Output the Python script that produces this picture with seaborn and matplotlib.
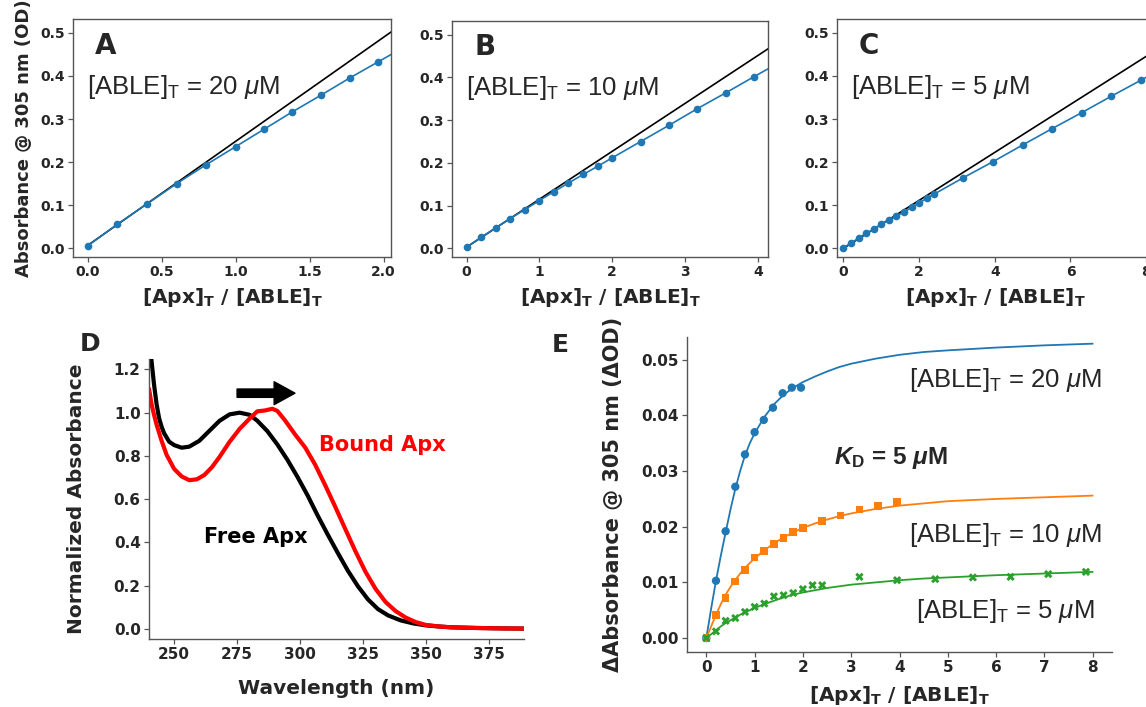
import numpy as np
import pandas as pd
import seaborn as sns
import matplotlib.pyplot as plt

# ---- dados ----
# Painel A: [ABLE]T = 20 uM
a_ratio = [0, 0.2, 0.4, 0.6, 0.8, 1.0, 1.19, 1.38, 1.58, 1.77, 1.96, 2.15]
a_abs = [0.006, 0.056, 0.103, 0.150, 0.194, 0.236, 0.276, 0.316, 0.356, 0.395, 0.432, 0.469]
a_ref_x = [0, 2.2]
a_ref_y = [0.007, 0.538]

# Painel B: [ABLE]T = 10 uM
b_ratio = [0, 0.2, 0.4, 0.6, 0.8, 1.0, 1.2, 1.4, 1.6, 1.8, 2.0, 2.39, 2.78, 3.17, 3.56, 3.95, 4.34]
b_abs = [0.003, 0.026, 0.048, 0.070, 0.091, 0.112, 0.133, 0.153, 0.173, 0.192, 0.212,
         0.250, 0.288, 0.327, 0.364, 0.402, 0.439]
b_ref_x = [0, 4.4]
b_ref_y = [0.003, 0.496]

# Painel C: [ABLE]T = 5 uM
c_ratio = [0, 0.2, 0.4, 0.6, 0.8, 1.0, 1.2, 1.4, 1.6, 1.8, 2.0, 2.2, 2.4,
           3.17, 3.95, 4.74, 5.52, 6.30, 7.08, 7.86, 8.64]
c_abs = [0.002, 0.012, 0.024, 0.035, 0.044, 0.056, 0.065, 0.075, 0.084, 0.095, 0.105, 0.116, 0.126,
         0.164, 0.201, 0.240, 0.278, 0.315, 0.353, 0.390, 0.427]
c_ref_x = [0, 9.0]
c_ref_y = [0.0, 0.501]

# Painel D: espectros normalizados
wl_free = [240, 241, 242, 243, 244, 245, 246, 248, 250, 253, 256, 260, 264, 268, 272, 276, 280,
           283, 287, 291, 295, 299, 303, 307, 311, 315, 319, 323, 327, 331, 335, 340, 345, 350,
           355, 360, 370, 380, 390]
abs_free = [1.38, 1.24, 1.13, 1.04, 0.975, 0.935, 0.905, 0.866, 0.850, 0.838, 0.843, 0.870, 0.916,
            0.962, 0.992, 1.000, 0.990, 0.963, 0.915, 0.853, 0.782, 0.703, 0.618, 0.525, 0.437,
            0.352, 0.270, 0.198, 0.137, 0.092, 0.063, 0.040, 0.026, 0.017, 0.012, 0.008, 0.005,
            0.003, 0.002]
wl_bound = [240, 241, 242, 243, 245, 247, 250, 253, 256, 259, 262, 265, 268, 272, 276, 280, 283,
            286, 289, 291, 294, 298, 302, 306, 310, 314, 318, 322, 326, 330, 334, 338, 342, 346,
            350, 355, 360, 370, 380, 390]
abs_bound = [1.11, 1.04, 0.99, 0.945, 0.87, 0.805, 0.74, 0.705, 0.688, 0.692, 0.712, 0.748, 0.795,
             0.865, 0.925, 0.973, 1.006, 1.010, 1.018, 1.008, 0.965, 0.900, 0.840, 0.760, 0.665,
             0.565, 0.462, 0.360, 0.265, 0.186, 0.125, 0.083, 0.053, 0.032, 0.019, 0.012, 0.008,
             0.005, 0.003, 0.002]

# Painel E: variação de absorbância + ajustes
e20_x = [0, 0.2, 0.4, 0.6, 0.8, 1.0, 1.19, 1.38, 1.58, 1.77, 1.96]
e20_y = [0, 0.0103, 0.0192, 0.0272, 0.0330, 0.0370, 0.0392, 0.0414, 0.0440, 0.0450, 0.0450]
e10_x = [0, 0.2, 0.4, 0.6, 0.8, 1.0, 1.2, 1.4, 1.6, 1.8, 2.0, 2.39, 2.78, 3.17, 3.56, 3.95]
e10_y = [0, 0.0041, 0.0072, 0.0102, 0.0122, 0.0145, 0.0157, 0.0169, 0.0180, 0.0191, 0.0198,
         0.0210, 0.0220, 0.0231, 0.0237, 0.0244]
e5_x = [0, 0.2, 0.4, 0.6, 0.8, 1.0, 1.2, 1.4, 1.6, 1.8, 2.0, 2.2, 2.4,
        3.17, 3.95, 4.74, 5.52, 6.30, 7.08, 7.86]
e5_y = [0, 0.0012, 0.0031, 0.0036, 0.0047, 0.0056, 0.0062, 0.0075, 0.0077, 0.0081, 0.0088,
        0.0095, 0.0095, 0.0110, 0.0104, 0.0106, 0.0109, 0.0110, 0.0115, 0.0119]

fit_x = [0, 0.1, 0.2, 0.3, 0.4, 0.5, 0.6, 0.7, 0.8, 0.9, 1.0, 1.2, 1.4, 1.6, 1.8, 2.0,
         2.25, 2.5, 2.75, 3.0, 3.5, 4.0, 4.5, 5.0, 6.0, 7.0, 8.0]
fit20 = [0, 0.0053, 0.0103, 0.0148, 0.0190, 0.0231, 0.0268, 0.0300, 0.0328, 0.0350, 0.0368,
         0.0397, 0.0420, 0.0437, 0.0450, 0.0460, 0.0470, 0.0479, 0.0487, 0.0493, 0.0502,
         0.0509, 0.0514, 0.0517, 0.0522, 0.0526, 0.0529]
fit10 = [0, 0.0021, 0.0042, 0.0061, 0.0078, 0.0092, 0.0104, 0.0116, 0.0126, 0.0135, 0.0143,
         0.0158, 0.0170, 0.0181, 0.0190, 0.0198, 0.0206, 0.0213, 0.0219, 0.0224, 0.0232,
         0.0238, 0.0242, 0.0246, 0.0250, 0.0253, 0.0256]
fit5 = [0, 0.0007, 0.0014, 0.0021, 0.0027, 0.0032, 0.0037, 0.0042, 0.0046, 0.0050, 0.0054,
        0.0061, 0.0067, 0.0073, 0.0078, 0.0082, 0.0086, 0.0090, 0.0093, 0.0096, 0.0100,
        0.0104, 0.0107, 0.0109, 0.0113, 0.0116, 0.0119]

conc_labels = ['20', '10', '5']
panel_letters = ['A', 'B', 'C', 'D', 'E']

BLUE, ORANGE, GREEN = '#1f77b4', '#ff7f0e', '#2ca02c'
SPINE = '#555555'
W, H = 1146, 707

# Configurações visuais
sns.set_style("ticks")
plt.rcParams.update({
    'font.family': ['DejaVu Sans'],
    'font.weight': 'bold',
    'mathtext.fontset': 'custom',
    'mathtext.rm': 'Liberation Sans:weight=normal',
    'mathtext.it': 'Liberation Sans:italic:weight=normal',
    'mathtext.bf': 'Liberation Sans:bold',
    'mathtext.bfit': 'Liberation Sans:italic:bold',
})


def box(left, top, right, bottom):
    # posição em pixels -> fração da figura
    return [left / W, 1 - bottom / H, (right - left) / W, (bottom - top) / H]


def style_axis(ax, size):
    for sp in ax.spines.values():
        sp.set_color(SPINE)
        sp.set_linewidth(1.0)
    ax.tick_params(labelsize=size, length=3.5, width=0.9, color=SPINE, pad=2.5)
    for lab in ax.get_xticklabels() + ax.get_yticklabels():
        lab.set_fontweight('bold')


def ratio_label(ax, size, pad=4):
    ax.set_xlabel('[Apx]$_\\mathbf{T}$ / [ABLE]$_\\mathbf{T}$', fontsize=size,
                  fontweight='bold', math_fontfamily='dejavusans', labelpad=pad)


def able_text(ax, x, y, conc, ha='left', transform=None, size=18.5):
    ax.text(x, y, '[ABLE]$_\\mathrm{T}$ = ' + conc + ' $\\mu$M', family='Liberation Sans',
            fontweight='normal', fontsize=size, ha=ha, va='center',
            transform=transform if transform is not None else ax.transData)


def build_figure():
    fig = plt.figure(figsize=(W / 100, H / 100), dpi=100)

    # ---- linha de cima: A, B, C ----
    top_panels = [
        (box(73, 19, 391, 257), a_ratio, a_abs, a_ref_x, a_ref_y, (-0.1, 2.05), np.arange(0, 2.01, 0.5)),
        (box(452, 21, 768, 257), b_ratio, b_abs, b_ref_x, b_ref_y, (-0.2, 4.14), np.arange(0, 4.1, 1)),
        (box(837, 19, 1153, 257), c_ratio, c_abs, c_ref_x, c_ref_y, (-0.17, 8.18), np.arange(0, 8.1, 2)),
    ]
    for i, (pos, rx, ry, refx, refy, xlim, xt) in enumerate(top_panels):
        ax = fig.add_axes(pos)
        sns.lineplot(x=refx, y=refy, color='black', linewidth=1.2, ax=ax)
        sns.lineplot(x=rx, y=ry, color=BLUE, linewidth=1.2, marker='o', markersize=5.5,
                     markeredgewidth=0, ax=ax)
        ax.set_xlim(*xlim)
        ax.set_ylim(-0.02, 0.532)
        ax.set_xticks(xt)
        ax.set_yticks(np.arange(0, 0.51, 0.1))
        style_axis(ax, 10)
        ratio_label(ax, 14.5, pad=5)
        if i == 0:
            ax.set_ylabel('Absorbance @ 305 nm (OD)', fontsize=13, fontweight='bold', labelpad=5)
        ax.text(0.07, 0.888, panel_letters[i], transform=ax.transAxes, fontsize=20,
                fontweight='bold', va='center', ha='left')
        able_text(ax, 0.045, 0.716, conc_labels[i], transform=ax.transAxes)

    # ---- D: espectros ----
    axd = fig.add_axes(box(149, 359, 524, 639))
    sns.lineplot(x=wl_free, y=abs_free, color='black', linewidth=3, ax=axd)
    sns.lineplot(x=wl_bound, y=abs_bound, color='#ff0000', linewidth=3, ax=axd)
    axd.set_xlim(240, 389)
    axd.set_ylim(-0.046, 1.248)
    axd.set_xticks([250, 275, 300, 325, 350, 375])
    axd.set_yticks(np.arange(0, 1.21, 0.2))
    sns.despine(ax=axd)
    style_axis(axd, 11)
    axd.set_xlabel('Wavelength (nm)', fontsize=14.5, fontweight='bold', labelpad=12)
    axd.set_ylabel('Normalized Absorbance', fontsize=14.5, fontweight='bold', labelpad=20)
    axd.text(307.5, 0.85, 'Bound Apx', color='#ff0000', fontsize=15, fontweight='bold',
             va='center', ha='left')
    axd.text(261.8, 0.426, 'Free Apx', color='black', fontsize=15, fontweight='bold',
             va='center', ha='left')
    axd.annotate('', xy=(298, 1.09), xytext=(275, 1.09),
                 arrowprops=dict(arrowstyle='simple,head_length=0.5,head_width=0.55,tail_width=0.2',
                                 color='black', mutation_scale=30, shrinkA=0, shrinkB=0))

    # ---- E: titulação ----
    axe = fig.add_axes(box(687, 337, 1112, 652))
    fits = [(fit20, e20_x, e20_y, BLUE, 'o', 36), (fit10, e10_x, e10_y, ORANGE, 's', 30),
            (fit5, e5_x, e5_y, GREEN, 'X', 36)]
    for fy, px, py, col, mk, ms in fits:
        sns.lineplot(x=fit_x, y=fy, color=col, linewidth=1.3, ax=axe)
        sns.scatterplot(x=px, y=py, color=col, marker=mk, s=ms, edgecolor='none', ax=axe, zorder=3)
    axe.set_xlim(-0.4, 8.4)
    axe.set_ylim(-0.0025, 0.0541)
    axe.set_xticks(range(0, 9))
    axe.set_yticks(np.arange(0, 0.051, 0.01))
    axe.yaxis.set_major_formatter(plt.FormatStrFormatter('%.2f'))
    sns.despine(ax=axe)
    style_axis(axe, 11)
    ratio_label(axe, 14.5, pad=6)
    axe.set_ylabel('ΔAbsorbance @ 305 nm (ΔOD)', fontsize=15, fontweight='bold', labelpad=13)
    able_text(axe, 8.18, 0.0464, '20', ha='right')
    able_text(axe, 8.18, 0.0186, '10', ha='right')
    able_text(axe, 8.03, 0.0048, '5', ha='right')
    axe.text(2.64, 0.0323, '$\\mathbfit{K}_\\mathbf{D}$ = 5 $\\boldsymbol{\\mu}$M',
             family='Liberation Sans', fontweight='bold', fontsize=17.5, va='center', ha='left')

    # letras D e E
    fig.text(80 / W, 1 - 344 / H, panel_letters[3], fontsize=18, fontweight='bold', va='center')
    fig.text(552 / W, 1 - 345 / H, panel_letters[4], fontsize=18, fontweight='bold', va='center')

    fig.savefig('out.png', dpi=100)
    plt.close(fig)


if __name__ == "__main__":
    build_figure()
